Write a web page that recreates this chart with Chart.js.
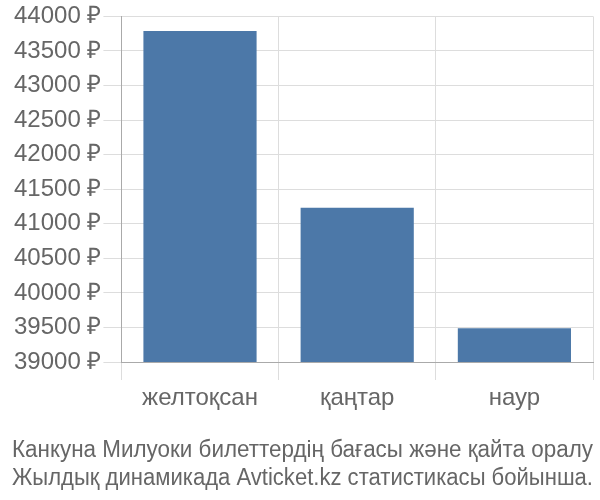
<!DOCTYPE html>
<html>
<head>
<meta charset="utf-8">
<script src="https://cdn.jsdelivr.net/npm/chart.js@4"></script>
<style>
  html, body { margin: 0; padding: 0; background: #fff; }
  #wrap { width: 600px; height: 500px; }
</style>
</head>
<body>
<div id="wrap"><canvas id="chart"></canvas></div>
<script>
const months = ['желтоқсан', 'қаңтар', 'наур'];
const prices = [43790, 41230, 39490];
const titleLines = [
  'Канкуна Милуоки билеттердің бағасы және қайта оралу',
  'Жылдық динамикада Avticket.kz статистикасы бойынша.'
];

Chart.defaults.font.family = '"Liberation Sans", Arial, sans-serif';
Chart.defaults.color = '#666';

new Chart(document.getElementById('chart'), {
  type: 'bar',
  data: {
    labels: months,
    datasets: [{
      data: prices,
      backgroundColor: '#4c78a8',
      borderWidth: 0
    }]
  },
  options: {
    responsive: true,
    maintainAspectRatio: false,
    animation: false,
    layout: { padding: { left: 12, right: 7, top: 1, bottom: 0 } },
    plugins: {
      legend: { display: false },
      tooltip: { enabled: false },
      title: {
        display: true,
        position: 'bottom',
        text: titleLines,
        color: '#666',
        font: { size: 23, weight: 'normal' },
        padding: { top: 20, bottom: 8 },
        lineHeight: 1.17
      }
    },
    scales: {
      x: {
        grid: { color: '#ddd', tickLength: 18, offset: true },
        border: { color: '#aaa' },
        ticks: { font: { size: 24 }, color: '#666', padding: 4 }
      },
      y: {
        min: 39000,
        max: 44000,
        grid: { color: '#ddd', tickLength: 18 },
        border: { color: '#aaa' },
        ticks: {
          stepSize: 500,
          font: { size: 24 },
          color: '#666',
          padding: 2,
          callback: v => v + ' ₽'
        }
      }
    }
  }
});
</script>
</body>
</html>
